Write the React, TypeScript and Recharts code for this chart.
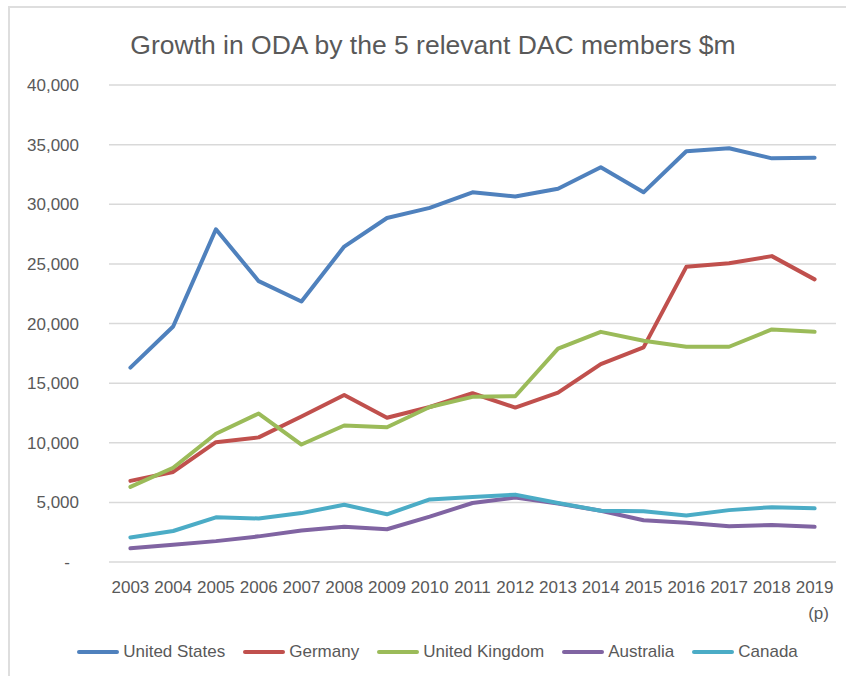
import React from "react";
import { LineChart, Line, XAxis, YAxis, CartesianGrid } from "recharts";

const years = [
  "2003", "2004", "2005", "2006", "2007", "2008", "2009", "2010", "2011",
  "2012", "2013", "2014", "2015", "2016", "2017", "2018", "2019 (p)",
];

const unitedStates = [16300, 19750, 27900, 23550, 21850, 26450, 28850, 29700, 31000, 30650, 31300, 33100, 31000, 34450, 34700, 33850, 33900];
const germany = [6800, 7550, 10050, 10450, 12200, 14000, 12100, 13000, 14150, 12950, 14200, 16600, 18000, 24750, 25050, 25650, 23700];
const unitedKingdom = [6300, 7900, 10750, 12450, 9850, 11450, 11300, 13000, 13850, 13900, 17900, 19300, 18550, 18050, 18050, 19500, 19300];
const australia = [1150, 1450, 1750, 2150, 2650, 2950, 2750, 3800, 4950, 5400, 4900, 4300, 3500, 3300, 3000, 3100, 2950];
const canada = [2050, 2600, 3750, 3650, 4100, 4800, 4000, 5250, 5450, 5650, 4950, 4300, 4250, 3900, 4350, 4600, 4500];

const yTicks = [0, 5000, 10000, 15000, 20000, 25000, 30000, 35000, 40000];

const series = [
  { key: "us", name: "United States", color: "#4f81bd" },
  { key: "de", name: "Germany", color: "#c0504d" },
  { key: "uk", name: "United Kingdom", color: "#9bbb59" },
  { key: "au", name: "Australia", color: "#8064a2" },
  { key: "ca", name: "Canada", color: "#4bacc6" },
];

const data = years.map((year, i) => ({
  year,
  us: unitedStates[i],
  de: germany[i],
  uk: unitedKingdom[i],
  au: australia[i],
  ca: canada[i],
}));

const FONT = "'Liberation Sans', Arial, sans-serif";
const TEXT = "#595959";

const YTick = (props: any) => {
  const { x, y, payload } = props;
  const v = payload.value;
  return (
    <text x={v === 0 ? x - 9 : x} y={y} dy="0.36em" textAnchor="end" fill={TEXT} fontSize={17} fontFamily={FONT}>
      {v === 0 ? "-" : v.toLocaleString("en-US")}
    </text>
  );
};

const XTick = (props: any) => {
  const { x, y, payload } = props;
  const parts = String(payload.value).split(" ");
  return (
    <text x={x} y={y} textAnchor="middle" fill={TEXT} fontSize={17} fontFamily={FONT}>
      {parts.map((p, i) => (
        <tspan key={i} x={x + (i > 0 ? 4 : 0)} dy={i === 0 ? "0.71em" : 26}>
          {p}
        </tspan>
      ))}
    </text>
  );
};

export default function App() {
  return (
    <div style={{ position: "absolute", left: 0, top: 0, width: 846, height: 676, background: "#fff", overflow: "hidden" }}>
      <div style={{ position: "absolute", left: 8, top: 6, width: 900, height: 700, borderLeft: "2px solid #dedede", borderTop: "2px solid #dedede" }} />
      <div style={{ position: "absolute", left: 0, top: 29, width: 866, textAlign: "center", fontFamily: FONT, fontSize: 26.5, lineHeight: "32px", color: TEXT }}>
        Growth in ODA by the 5 relevant DAC members $m
      </div>
      <div style={{ position: "absolute", left: 0, top: 640, width: 875, height: 24, display: "flex", justifyContent: "center", alignItems: "center", gap: 18, fontFamily: FONT, fontSize: 17, color: TEXT }}>
        {series.map((s) => (
          <div key={s.key} style={{ display: "flex", alignItems: "center" }}>
            <div style={{ width: 42, height: 4, borderRadius: 2, background: s.color, marginRight: 4 }} />
            <span>{s.name}</span>
          </div>
        ))}
      </div>
      <LineChart width={846} height={676} data={data} margin={{ top: 85, right: 10, bottom: 84, left: 9 }} style={{ position: "absolute", left: 0, top: 0 }}>
        <CartesianGrid vertical={false} stroke="#d9d9d9" strokeWidth={1.5} />
        <XAxis
          dataKey="year"
          height={30}
          axisLine={false}
          tickLine={false}
          tickSize={0}
          tickMargin={19}
          interval={0}
          padding={{ left: 21.4, right: 21.4 }}
          tick={<XTick />}
        />
        <YAxis
          width={100}
          domain={[0, 40000]}
          ticks={yTicks}
          axisLine={false}
          tickLine={false}
          tickSize={0}
          tickMargin={30}
          tick={<YTick />}
        />
        {series.map((s) => (
          <Line
            key={s.key}
            type="linear"
            dataKey={s.key}
            name={s.name}
            stroke={s.color}
            strokeWidth={4}
            strokeLinecap="round"
            strokeLinejoin="round"
            dot={false}
            activeDot={false}
            isAnimationActive={false}
          />
        ))}
      </LineChart>
    </div>
  );
}
